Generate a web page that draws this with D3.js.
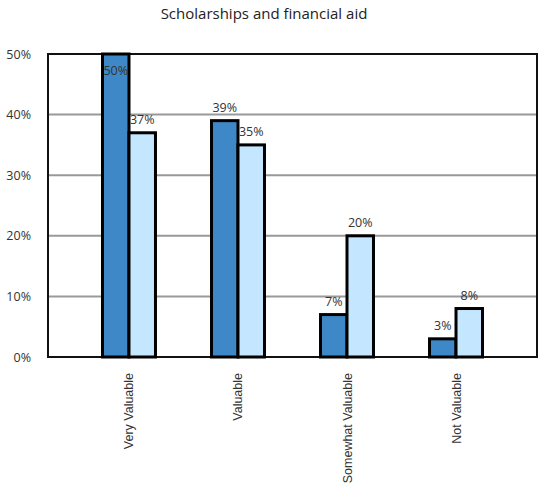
<!DOCTYPE html>
<html><head><meta charset="utf-8">
<script src="https://cdn.jsdelivr.net/npm/d3@7"></script>
<style>body{margin:0;background:#fff}svg{display:block}text{font-family:"Open Sans",sans-serif}</style>
</head><body><svg id="c" width="538" height="491"></svg>
<script>
const title = "Scholarships and financial aid";
const categories = ["Very Valuable","Valuable","Somewhat Valuable","Not Valuable"];
const series1 = [50,39,7,3];
const series2 = [37,35,20,8];
const yTicks = [0,10,20,30,40,50];
const colors = ["#3F88C8","#C5E6FF"];

const svg = d3.select("#c");
const m = {l:48, r:1, t:54, b:134};
const W = 538, H = 491;
const x = d3.scaleBand().domain(categories).range([m.l, W-m.r]).paddingInner(0.514).paddingOuter(0.5);
const x1 = d3.scaleBand().domain([0,1]).range([0, x.bandwidth()]);
const y = d3.scaleLinear().domain([0,50]).range([H-m.b, m.t]);

svg.append("text").attr("x",264).attr("y",18.5).attr("text-anchor","middle")
  .attr("font-size",15).attr("fill","#222").text(title);

// gridlines
svg.append("g").selectAll("line").data(yTicks.slice(1,-1)).join("line")
  .attr("x1",m.l).attr("x2",W-m.r).attr("y1",d=>y(d)).attr("y2",d=>y(d))
  .attr("stroke","#999").attr("stroke-width",2);

// frame
svg.append("rect").attr("x",m.l).attr("y",y(50)).attr("width",W-m.r-m.l).attr("height",y(0)-y(50))
  .attr("fill","none").attr("stroke","#111").attr("stroke-width",2);

// y axis labels
const ya = svg.append("g").attr("transform",`translate(${m.l},0)`)
  .call(d3.axisLeft(y).tickValues(yTicks).tickFormat(d=>d+"%").tickSize(0).tickPadding(17));
ya.select(".domain").remove();
ya.selectAll("text").attr("font-size",12.5).attr("fill","#333").style("font-family","'Open Sans',sans-serif");

// bars
const data = categories.map((c,i)=>({c, v:[series1[i],series2[i]]}));
const g = svg.append("g").selectAll("g").data(data).join("g").attr("transform",d=>`translate(${x(d.c)},0)`);
g.selectAll("rect").data(d=>d.v.map((v,k)=>({v,k}))).join("rect")
  .attr("x",d=>x1(d.k)).attr("width",x1.bandwidth())
  .attr("y",d=>y(d.v)).attr("height",d=>y(0)-y(d.v))
  .attr("fill",d=>colors[d.k]).attr("stroke","#000").attr("stroke-width",3);
g.selectAll("text").data(d=>d.v.map((v,k)=>({v,k}))).join("text")
  .attr("x",d=>x1(d.k)+x1.bandwidth()/2)
  .attr("y",d=>Math.max(y(d.v)-9, 75))
  .attr("text-anchor","middle").attr("font-size",12.5).attr("fill","#333")
  .text(d=>d.v+"%");

// x axis labels
svg.append("g").selectAll("text").data(categories).join("text")
  .attr("transform",d=>`translate(${x(d)+x.bandwidth()/2+4.5},373) rotate(-90)`)
  .attr("text-anchor","end").attr("font-size",12.5).attr("fill","#333")
  .style("font-family","'Liberation Sans',Arial,sans-serif").text(d=>d);
</script></body></html>
